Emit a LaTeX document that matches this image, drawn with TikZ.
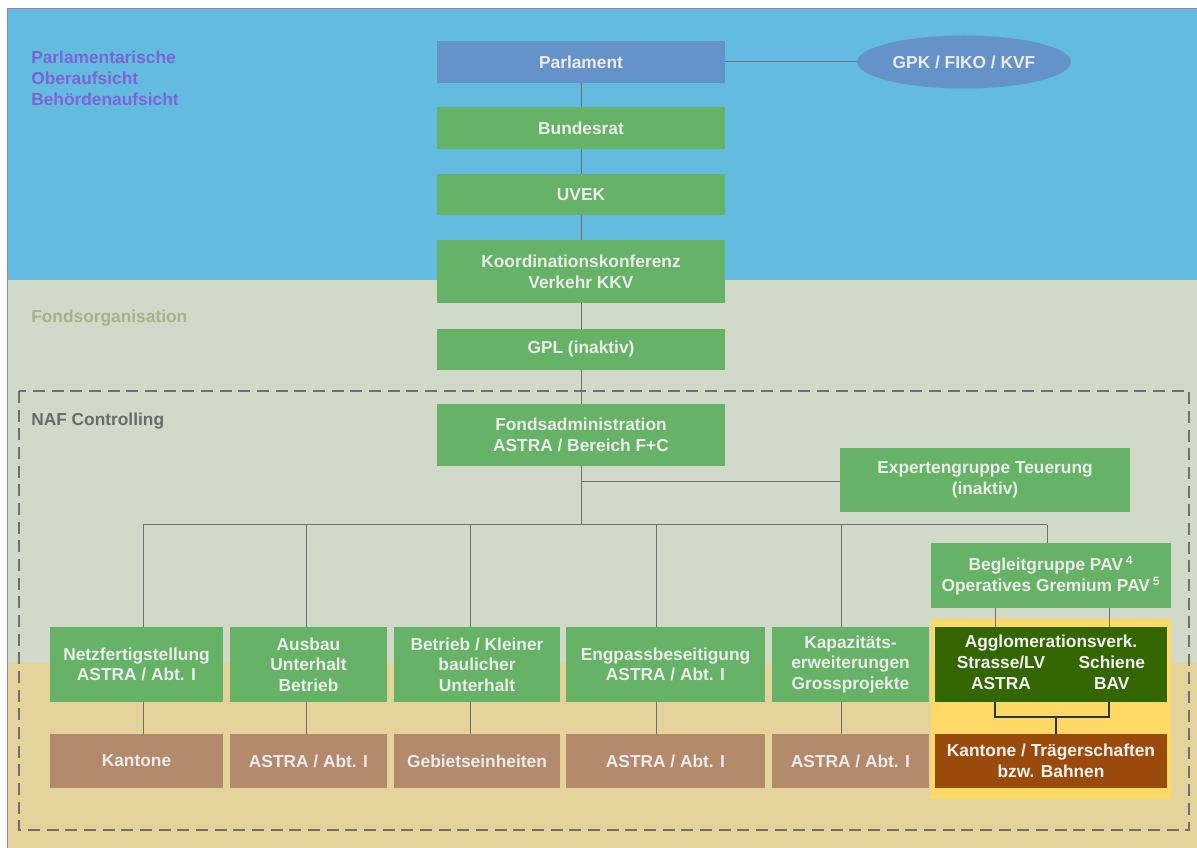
\documentclass[tikz,border=0pt]{standalone}
\usepackage{fontspec}
\setmainfont{Liberation Sans}
\usetikzlibrary{shapes.geometric}

\definecolor{skyband}{HTML}{63BCDF}
\definecolor{fondsband}{HTML}{D1D9C8}
\definecolor{sandband}{HTML}{E4D39B}
\definecolor{parlblue}{HTML}{6592C8}
\definecolor{boxgreen}{HTML}{66B266}
\definecolor{aggdarkgreen}{HTML}{336600}
\definecolor{boxbrown}{HTML}{B38A6B}
\definecolor{rustbrown}{HTML}{9A4A0A}
\definecolor{aggyellow}{HTML}{FFD966}
\definecolor{labelgrey}{HTML}{EBEBEB}
\definecolor{linegrey}{HTML}{707070}
\definecolor{oberpurple}{HTML}{7D63D6}
\definecolor{fondsolive}{HTML}{A5B38A}
\definecolor{ctrlgrey}{HTML}{6B6B6B}

\begin{document}
\begin{tikzpicture}[x=0.75pt,y=0.75pt,yscale=-1,xscale=1,
    box/.style 2 args={rectangle, inner sep=0pt, align=center, minimum width=#1*0.75pt,
      minimum height=#2*0.75pt, text=labelgrey, font=\bfseries\fontsize{13}{15.5}\selectfont},
    bandlabel/.style={inner sep=0pt, align=left, font=\bfseries\fontsize{13}{15.75}\selectfont},
    conn/.style={draw=linegrey, line width=0.75pt},
    aggconn/.style={draw=black!80, line width=0.9pt},
    ctrlframe/.style={draw=linegrey, line width=1.1pt, dash pattern=on 9pt off 5pt}]
    \useasboundingbox (0,0) rectangle (1197,848);

    %Shape: bands
    \fill[skyband] (7,9) rectangle (1197,280);
    \fill[fondsband] (7,280) rectangle (1197,663);
    \fill[sandband] (7,663) rectangle (1197,848);
    \draw[linegrey!80, line width=0.75pt] (7,848) -- (7,9) -- (1197,9);
    %Shape: NAF controlling frame
    \draw[ctrlframe] (19,391) rectangle (1189,830);
    %Shape: agglomeration frame
    \fill[aggyellow] (931,619) rectangle (1171,799);

    % Text Node
    \node[bandlabel, text=oberpurple, anchor=north west] (aufsicht) at (31,50.5) {Parlamentarische\\Oberaufsicht\\Behördenaufsicht};
    % Text Node
    \node[bandlabel, text=fondsolive, anchor=base west] (fondsorg) at (31,323) {Fondsorganisation};
    % Text Node
    \node[bandlabel, text=ctrlgrey, anchor=base west] (nafctrl) at (31,426) {NAF Controlling};

    % top chain
    \node[box={288}{42}, fill=parlblue] (parl) at (581,62) {Parlament};
    \node[ellipse, inner sep=0pt, fill=parlblue, minimum width=214*0.75pt, minimum height=53*0.75pt,
      text=labelgrey, font=\bfseries\fontsize{13}{15.5}\selectfont] (gpk) at (964,62) {GPK / FIKO / KVF};
    \node[box={288}{42}, fill=boxgreen] (bundesrat) at (581,128) {Bundesrat};
    \node[box={288}{41}, fill=boxgreen] (uvek) at (581,194.5) {UVEK};
    \node[box={288}{63}, fill=boxgreen] (kkv) at (581,271.5) {Koordinationskonferenz\\Verkehr KKV};
    \node[box={288}{41}, fill=boxgreen] (gpl) at (581,349.5) {GPL (inaktiv)};
    \node[box={288}{62}, fill=boxgreen] (fonds) at (581,435) {Fondsadministration\\ASTRA / Bereich F+C};
    \node[box={290}{64}, fill=boxgreen] (expert) at (985,480) {Expertengruppe Teuerung\\(inaktiv)};
    \node[box={240}{65}, fill=boxgreen] (begleit) at (1051,575.5) {Begleitgruppe PAV\,\textsuperscript{4}\\Operatives Gremium PAV\,\textsuperscript{5}};

    % green row
    \node[box={173}{75}, fill=boxgreen] (netz) at (136.5,664.5) {Netzfertigstellung\\ASTRA / Abt. I};
    \node[box={157}{75}, fill=boxgreen] (ausbau) at (308.5,664.5) {Ausbau\\Unterhalt\\Betrieb};
    \node[box={166}{75}, fill=boxgreen] (betrieb) at (477,664.5) {Betrieb / Kleiner\\baulicher\\Unterhalt};
    \node[box={199}{75}, fill=boxgreen] (eng) at (665.5,664.5) {Engpassbeseitigung\\ASTRA / Abt. I};
    \node[box={157}{75}, fill=boxgreen] (kap) at (850.5,664.5) {Kapazitäts-\\erweiterungen\\Grossprojekte};
    \node[box={232}{75}, fill=aggdarkgreen, text=white!95!black] (agglo) at (1051,664.5)
      {\begin{tabular}{@{}c@{\hspace{25pt}}c@{}}
        \multicolumn{2}{c}{Agglomerationsverk.}\\
        Strasse/LV & Schiene\\
        ASTRA & BAV
      \end{tabular}};

    % brown row
    \node[box={173}{54}, fill=boxbrown] (netz-unit) at (136.5,761) {Kantone};
    \node[box={157}{54}, fill=boxbrown] (ausbau-unit) at (308.5,761) {ASTRA / Abt. I};
    \node[box={166}{54}, fill=boxbrown] (betrieb-unit) at (477,761) {Gebietseinheiten};
    \node[box={199}{54}, fill=boxbrown] (eng-unit) at (665.5,761) {ASTRA / Abt. I};
    \node[box={157}{54}, fill=boxbrown] (kap-unit) at (850.5,761) {ASTRA / Abt. I};
    \node[box={232}{54}, fill=rustbrown, text=white!95!black] (agglo-unit) at (1051,761) {Kantone / Trägerschaften\\bzw. Bahnen};

    % connectors
    \coordinate (exjoin) at (581,482);
    \coordinate (branch) at (581,525);
    \coordinate (brleft) at (143,525);
    \coordinate (brright) at (1047,525);
    \draw[conn] (parl) -- (gpk);
    \draw[conn] (parl) -- (bundesrat);
    \draw[conn] (bundesrat) -- (uvek);
    \draw[conn] (uvek) -- (kkv);
    \draw[conn] (kkv) -- (gpl);
    \draw[conn] (gpl) -- (fonds);
    \draw[conn] (fonds) -- (branch);
    \draw[conn] (exjoin) -- (exjoin -| expert.west);
    \draw[conn] (brleft) -- (brright);
    \draw[conn] (brright) -- (brright |- begleit.north);
    \foreach \n/\x in {netz/143,ausbau/306,betrieb/470,eng/656,kap/841}{
      \draw[conn] (\x,525) -- (\n.north -| \x,525);
      \draw[conn] (\n.south -| \x,0) -- (\n-unit.north -| \x,0);
    }
    \draw[conn] (begleit.south -| 995,0) -- (agglo.north -| 995,0);
    \draw[conn] (begleit.south -| 1109,0) -- (agglo.north -| 1109,0);

    \coordinate (aggL) at (995,717);
    \coordinate (aggR) at (1109,717);
    \coordinate (aggjoin) at (1056,717);
    \draw[aggconn] (agglo.south -| aggL) -- (aggL) -- (aggR) -- (agglo.south -| aggR);
    \draw[aggconn] (aggjoin) -- (aggjoin |- agglo-unit.north);

\end{tikzpicture}
\end{document}
